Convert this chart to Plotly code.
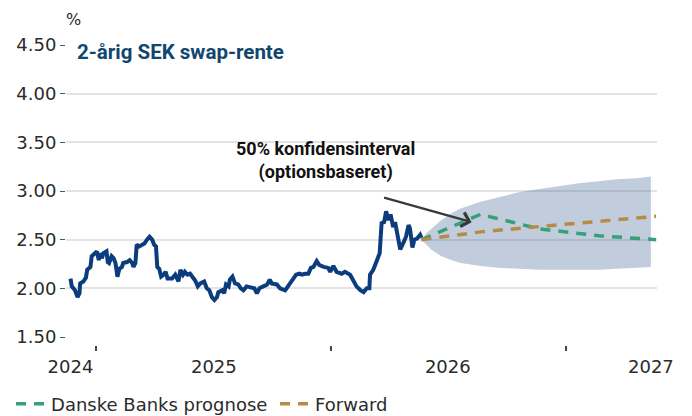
import pandas as pd
import plotly.graph_objects as go

# ---------------- data ----------------
base_date = pd.Timestamp("2024-01-01")
# historical 2y SEK swap rate: day offset from base_date, rate in %
hist_day = [-40, -38, -33, -29, -26, -25, -20, -16, -14, -9,
            -7, -2, 1, 4, 6, 9, 11, 16, 18, 20,
            24, 27, 30, 33, 36, 40, 42, 48, 52, 56,
            58, 61, 63, 67, 71, 75, 79, 83, 87, 90,
            93, 95, 98, 101, 105, 108, 111, 118, 123, 128,
            131, 135, 138, 142, 146, 150, 154, 158, 162, 168,
            172, 176, 180, 184, 188, 190, 196, 199, 202, 206,
            208, 212, 216, 221, 225, 229, 234, 240, 246, 250,
            254, 260, 266, 270, 273, 281, 286, 294, 298, 302,
            306, 311, 316, 320, 325, 330, 334, 338, 343, 347,
            354, 361, 364, 369, 374, 382, 387, 392, 395, 400,
            405, 411, 416, 421, 425, 426, 431, 434, 438, 441,
            444, 448, 451, 455, 458, 462, 465, 468, 473, 478,
            482, 486, 488, 492, 495, 499, 504, 506]
hist_rate = [2.10, 2.02, 1.98, 1.91, 1.95, 2.05, 2.07, 2.11, 2.19, 2.22,
             2.33, 2.36, 2.38, 2.29, 2.36, 2.31, 2.36, 2.38, 2.27, 2.26,
             2.33, 2.31, 2.26, 2.12, 2.20, 2.22, 2.26, 2.27, 2.29, 2.26,
             2.22, 2.26, 2.45, 2.43, 2.45, 2.46, 2.50, 2.53, 2.50, 2.45,
             2.43, 2.22, 2.20, 2.12, 2.14, 2.17, 2.10, 2.10, 2.14, 2.07,
             2.19, 2.14, 2.17, 2.14, 2.15, 2.12, 2.08, 2.02, 2.05, 2.07,
             2.00, 1.98, 1.91, 1.88, 1.91, 1.96, 1.98, 1.95, 2.04, 2.02,
             2.09, 2.12, 2.05, 2.04, 2.00, 1.98, 2.02, 2.01, 2.00, 1.95,
             2.00, 2.02, 2.04, 2.09, 2.05, 2.04, 2.00, 1.98, 2.02, 2.05,
             2.10, 2.14, 2.15, 2.14, 2.15, 2.15, 2.21, 2.22, 2.28, 2.24,
             2.22, 2.21, 2.17, 2.23, 2.17, 2.15, 2.17, 2.15, 2.14, 2.08,
             2.02, 1.98, 1.96, 2.00, 2.00, 2.14, 2.19, 2.24, 2.31, 2.36,
             2.67, 2.68, 2.79, 2.70, 2.76, 2.63, 2.68, 2.56, 2.40, 2.47,
             2.53, 2.65, 2.62, 2.42, 2.50, 2.51, 2.55, 2.52]

# forecasts
fc_dates = ["2025-05-21", "2025-08-21", "2025-11-21", "2026-02-21", "2026-05-21"]
danske_fc = [2.50, 2.76, 2.61, 2.54, 2.50]
forward = [2.50, 2.58, 2.635, 2.69, 2.74]

# 50% confidence interval (option based)
band_dates = ["2025-05-21", "2025-05-28", "2025-06-05", "2025-06-21", "2025-07-06",
              "2025-07-21", "2025-08-21", "2025-09-21", "2025-10-21", "2025-11-21",
              "2025-12-21", "2026-01-21", "2026-02-21", "2026-03-21", "2026-04-21",
              "2026-05-13"]
band_upper = [2.50, 2.56, 2.61, 2.70, 2.77, 2.82, 2.89, 2.94, 2.99, 3.02,
              3.05, 3.08, 3.10, 3.12, 3.13, 3.15]
band_lower = [2.50, 2.45, 2.40, 2.33, 2.29, 2.26, 2.23, 2.21, 2.20, 2.19,
              2.19, 2.19, 2.19, 2.20, 2.21, 2.22]

# axes
x_range = ["2023-11-15", "2026-05-22 12:00"]
xlabel_dates = ["2023-11-22", "2024-07-02", "2025-07-01", "2026-05-13"]
xlabel_text = ["2024", "2025", "2026", "2027"]
xtick_dates = ["2024-01-01", "2025-01-01", "2026-01-01"]
ytick_vals = [1.5, 2.0, 2.5, 3.0, 3.5, 4.0, 4.5]
ytick_text = [f"{v:.2f}" for v in ytick_vals]

hist_dates = base_date + pd.to_timedelta(hist_day, unit="D")

# ---------------- styles ----------------
FONT = "DejaVu Sans"
BOLD = "Roboto"
NAVY = "#0b3c7d"
GREEN = "#35a07a"
GOLD = "#b88b44"
BAND = "rgba(40,78,135,0.29)"
TXT = "#2b2b2b"

fig = go.Figure()

fig.add_trace(go.Scatter(x=band_dates, y=band_lower, mode="lines",
                         line=dict(width=0, color=BAND), showlegend=False,
                         hoverinfo="skip"))
fig.add_trace(go.Scatter(x=band_dates, y=band_upper, mode="lines",
                         line=dict(width=0, color=BAND), fill="tonexty",
                         fillcolor=BAND, showlegend=False, hoverinfo="skip"))
fig.add_trace(go.Scatter(x=hist_dates, y=hist_rate, mode="lines",
                         line=dict(color=NAVY, width=4), showlegend=False,
                         name="2-årig SEK swap-rente"))
fig.add_trace(go.Scatter(x=fc_dates, y=danske_fc, mode="lines",
                         line=dict(color=GREEN, width=3.5, dash="10px,8px"),
                         name="Danske Banks prognose"))
fig.add_trace(go.Scatter(x=fc_dates, y=forward, mode="lines",
                         line=dict(color=GOLD, width=3.5, dash="10px,8px"),
                         name="Forward"))
# carrier for the tick-mark axis
fig.add_trace(go.Scatter(x=xtick_dates, y=[None] * len(xtick_dates), xaxis="x2",
                         mode="lines", showlegend=False, hoverinfo="skip"))

fig.update_layout(
    width=684, height=408,
    margin=dict(l=58, r=35, t=37, b=71, autoexpand=False),
    paper_bgcolor="white", plot_bgcolor="white",
    font=dict(family=FONT, size=18, color=TXT),
    showlegend=True,
    legend=dict(orientation="h", x=-0.093, xanchor="left", y=-0.197,
                yanchor="middle", font=dict(family=FONT, size=18, color=TXT),
                bgcolor="rgba(0,0,0,0)", traceorder="normal", itemwidth=30,
                entrywidth=219, entrywidthmode="pixels"),
    xaxis=dict(type="date", range=x_range, tickvals=xlabel_dates,
               ticktext=xlabel_text, ticks="", showgrid=False, showline=False,
               zeroline=False, anchor="y", ticklabelstandoff=17, automargin=False,
               tickfont=dict(family=FONT, size=18, color=TXT)),
    xaxis2=dict(type="date", range=x_range, overlaying="x", anchor="free",
                position=0, tickvals=xtick_dates, ticks="outside", ticklen=5,
                tickwidth=1.5, tickcolor="#444", showticklabels=False,
                showgrid=False, showline=False, zeroline=False, automargin=False),
    yaxis=dict(domain=[8 / 300, 1], range=[1.5, 4.5], tickvals=ytick_vals,
               ticktext=ytick_text, ticks="outside", ticklen=5, tickwidth=1,
               tickcolor="#555", gridcolor="#e4e4e4", gridwidth=1.5,
               showline=False, zeroline=False, ticklabelstandoff=0, automargin=False,
               tickfont=dict(family=FONT, size=18, color=TXT)),
)

fig.add_annotation(text="%", xref="paper", yref="paper", x=-0.0034, y=1.122,
                   showarrow=False, font=dict(family=FONT, size=16, color=TXT))
fig.add_annotation(text="<b>2-årig SEK swap-rente</b>", xref="paper", yref="paper",
                   x=0.015, y=0.976, xanchor="left", yanchor="middle", showarrow=False,
                   font=dict(family=BOLD, size=20.5, color="#11466e"))
fig.add_annotation(text="<b>50% konfidensinterval<br>(optionsbaseret)</b>",
                   x="2024-12-23", y=3.31, xref="x", yref="y", showarrow=False,
                   align="center", font=dict(family=BOLD, size=18, color="#111"))
fig.add_annotation(text="", x="2025-08-07", y=2.68, xref="x", yref="y",
                   ax=-89, ay=-25, showarrow=True, arrowhead=4, arrowsize=1.3,
                   arrowwidth=2.2, arrowcolor="#353b3b", standoff=0)

fig.write_html("out.html")
